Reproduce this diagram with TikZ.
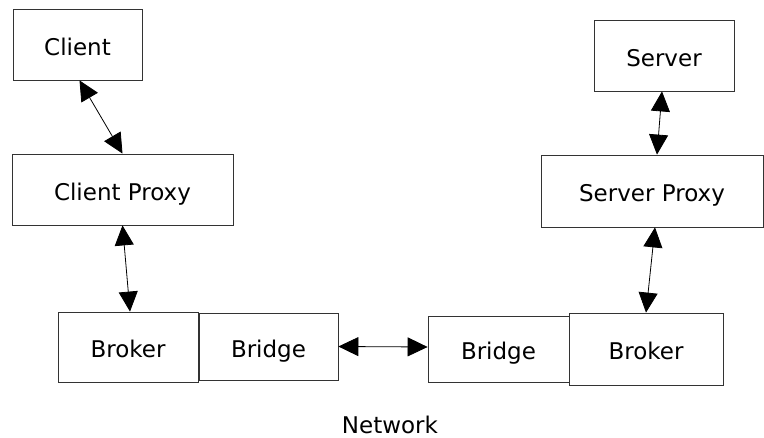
\documentclass[tikz,border=0pt]{standalone}
\usepackage{fontspec}
\setmainfont{DejaVu Sans}
\usetikzlibrary{arrows.meta}
\begin{document}
\begin{tikzpicture}[x=1pt,y=-1pt,
  box/.style={draw=black!80,line width=0.8pt,inner sep=0pt,anchor=center,
    text height=22pt,text depth=0pt,
    font=\fontsize{23}{27}\selectfont},
  link/.style={line width=0.8pt,
    {Triangle[length=20pt,width=19pt]}-{Triangle[length=20pt,width=19pt]}}]
\useasboundingbox (0,0) rectangle (764,438);
% components
\node[box,minimum width=129pt,minimum height=71pt] (client)  at (77.5,44.5) {Client};
\node[box,minimum width=221pt,minimum height=71pt] (cproxy)  at (122.5,189.5) {Client Proxy};
\node[box,minimum width=140pt,minimum height=71pt] (server)  at (664,55.5) {Server};
\node[box,minimum width=222pt,minimum height=72pt] (sproxy)  at (652,191) {Server Proxy};
\node[box,minimum width=140pt,minimum height=70pt] (broker1) at (128,347) {Broker};
\node[box,minimum width=139pt,minimum height=67pt] (bridge1) at (268.5,346.5) {Bridge};
\node[box,minimum width=141pt,minimum height=66pt] (bridge2) at (498.5,349) {Bridge};
\node[box,minimum width=154pt,minimum height=72pt] (broker2) at (646,349) {Broker};
\node[font=\fontsize{23}{27}\selectfont] (net) at (390,425) {Network};
% connections
\draw[link] ([xshift=2pt]client.south) -- (cproxy.north);
\draw[link] (cproxy.south) -- ([xshift=2pt]broker1.north);
\draw[link] ([xshift=-2pt]server.south) -- ([xshift=5pt]sproxy.north);
\draw[link] ([xshift=3pt]sproxy.south) -- (broker2.north);
\draw[link] (bridge1.east) -- ([yshift=2pt]bridge2.west);
\end{tikzpicture}
\end{document}
